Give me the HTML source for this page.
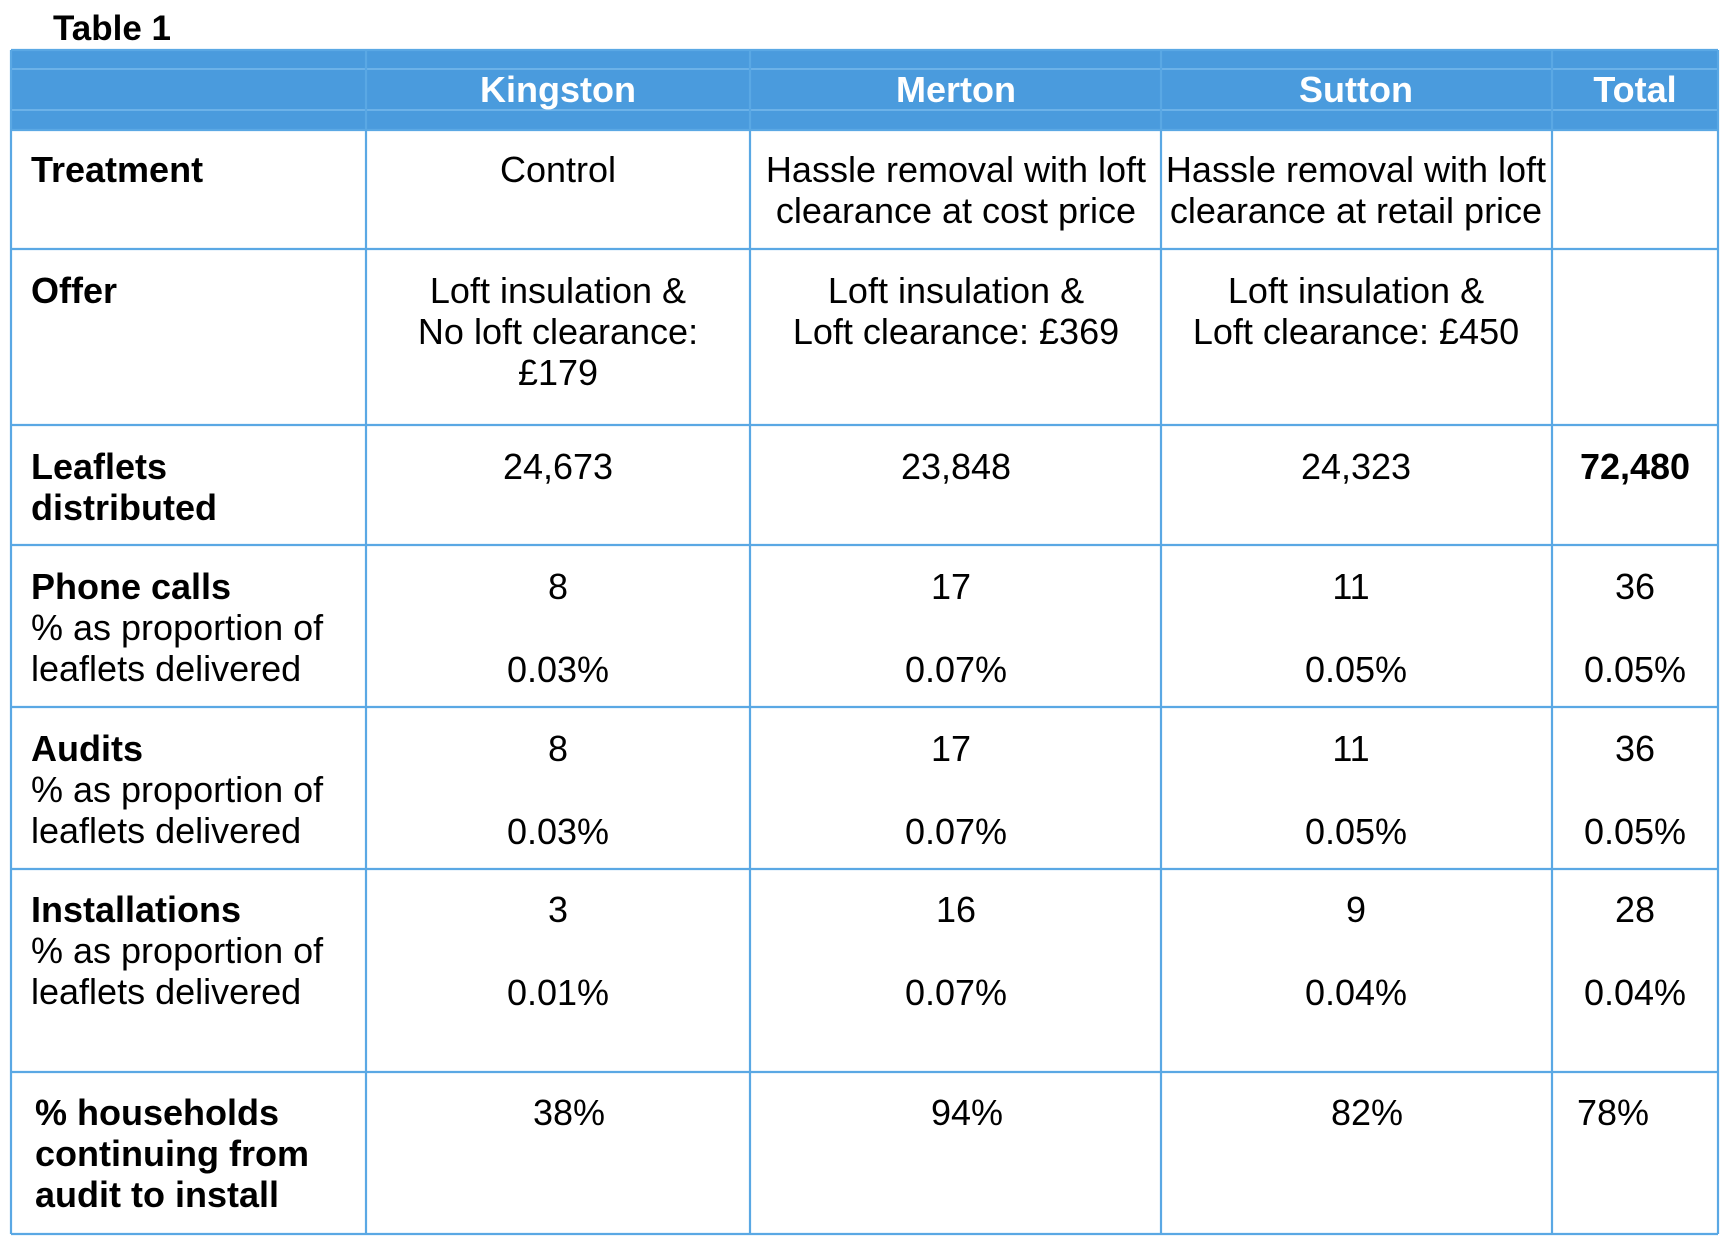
<!DOCTYPE html>
<html><head><meta charset="utf-8"><style>
html,body{margin:0;padding:0;background:#fff;}
body{width:1730px;height:1250px;position:relative;overflow:hidden;font-family:"Liberation Sans",Arial,sans-serif;color:#000;}
.t{position:absolute;white-space:nowrap;font-size:36px;line-height:41px;}
.c{text-align:center;transform:translateX(-50%);}
.b{font-weight:bold;}
.h{color:#fff;font-weight:bold;font-size:36px;}
</style></head><body>
<svg width="1730" height="1250" style="position:absolute;left:0;top:0">
<rect x="11" y="50" width="1707" height="80" fill="#4a9bdd"/>
<g stroke="#6cb2e8" stroke-width="2">
<line x1="11" y1="69" x2="1718" y2="69"/>
<line x1="11" y1="110" x2="1718" y2="110"/>
</g>
<g stroke="#5aa8e4" stroke-width="2.2" fill="none">
<line x1="11" y1="50" x2="1718" y2="50"/>
<line x1="11" y1="130" x2="1718" y2="130"/>
<line x1="11" y1="249" x2="1718" y2="249"/>
<line x1="11" y1="425" x2="1718" y2="425"/>
<line x1="11" y1="545" x2="1718" y2="545"/>
<line x1="11" y1="707" x2="1718" y2="707"/>
<line x1="11" y1="869" x2="1718" y2="869"/>
<line x1="11" y1="1072" x2="1718" y2="1072"/>
<line x1="11" y1="1234" x2="1718" y2="1234"/>
<line x1="11" y1="50" x2="11" y2="1234"/>
<line x1="366" y1="50" x2="366" y2="1234"/>
<line x1="750" y1="50" x2="750" y2="1234"/>
<line x1="1161" y1="50" x2="1161" y2="1234"/>
<line x1="1552" y1="50" x2="1552" y2="1234"/>
<line x1="1718" y1="50" x2="1718" y2="1234"/>
</g>
</svg>
<div class="t b" style="left:53px;top:8px;font-size:35px">Table 1</div>

<div class="t h c" style="left:558px;top:69px">Kingston</div>
<div class="t h c" style="left:956px;top:69px">Merton</div>
<div class="t h c" style="left:1356px;top:69px">Sutton</div>
<div class="t h c" style="left:1635px;top:69px">Total</div>

<div class="t b" style="left:31px;top:149px">Treatment</div>
<div class="t c" style="left:558px;top:149px">Control</div>
<div class="t c" style="left:956px;top:149px">Hassle removal with loft<br>clearance at cost price</div>
<div class="t c" style="left:1356px;top:149px">Hassle removal with loft<br>clearance at retail price</div>

<div class="t b" style="left:31px;top:270px">Offer</div>
<div class="t c" style="left:558px;top:270px">Loft insulation &amp;<br>No loft clearance:<br>£179</div>
<div class="t c" style="left:956px;top:270px">Loft insulation &amp;<br>Loft clearance: £369</div>
<div class="t c" style="left:1356px;top:270px">Loft insulation &amp;<br>Loft clearance: £450</div>

<div class="t b" style="left:31px;top:446px">Leaflets<br>distributed</div>
<div class="t c" style="left:558px;top:446px">24,673</div>
<div class="t c" style="left:956px;top:446px">23,848</div>
<div class="t c" style="left:1356px;top:446px">24,323</div>
<div class="t c b" style="left:1635px;top:446px">72,480</div>

<div class="t" style="left:31px;top:566px"><b>Phone calls</b><br>% as proportion of<br>leaflets delivered</div>
<div class="t c" style="left:558px;top:566px">8</div><div class="t c" style="left:558px;top:649px">0.03%</div>
<div class="t c" style="left:951px;top:566px">17</div><div class="t c" style="left:956px;top:649px">0.07%</div>
<div class="t c" style="left:1351px;top:566px">11</div><div class="t c" style="left:1356px;top:649px">0.05%</div>
<div class="t c" style="left:1635px;top:566px">36</div><div class="t c" style="left:1635px;top:649px">0.05%</div>

<div class="t" style="left:31px;top:728px"><b>Audits</b><br>% as proportion of<br>leaflets delivered</div>
<div class="t c" style="left:558px;top:728px">8</div><div class="t c" style="left:558px;top:811px">0.03%</div>
<div class="t c" style="left:951px;top:728px">17</div><div class="t c" style="left:956px;top:811px">0.07%</div>
<div class="t c" style="left:1351px;top:728px">11</div><div class="t c" style="left:1356px;top:811px">0.05%</div>
<div class="t c" style="left:1635px;top:728px">36</div><div class="t c" style="left:1635px;top:811px">0.05%</div>

<div class="t" style="left:31px;top:889px"><b>Installations</b><br>% as proportion of<br>leaflets delivered</div>
<div class="t c" style="left:558px;top:889px">3</div><div class="t c" style="left:558px;top:972px">0.01%</div>
<div class="t c" style="left:956px;top:889px">16</div><div class="t c" style="left:956px;top:972px">0.07%</div>
<div class="t c" style="left:1356px;top:889px">9</div><div class="t c" style="left:1356px;top:972px">0.04%</div>
<div class="t c" style="left:1635px;top:889px">28</div><div class="t c" style="left:1635px;top:972px">0.04%</div>

<div class="t b" style="left:35px;top:1092px">% households<br>continuing from<br>audit to install</div>
<div class="t c" style="left:569px;top:1092px">38%</div>
<div class="t c" style="left:967px;top:1092px">94%</div>
<div class="t c" style="left:1367px;top:1092px">82%</div>
<div class="t" style="left:1577px;top:1092px">78%</div>
</body></html>
